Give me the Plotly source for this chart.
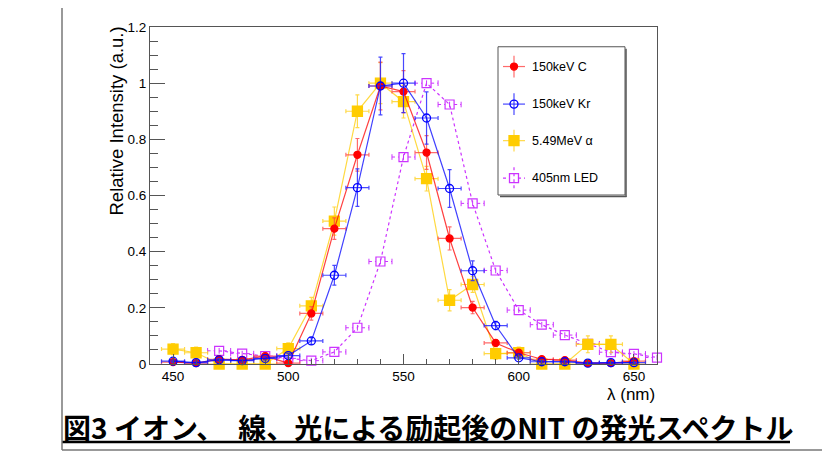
import plotly.graph_objects as go

# ---------------- data ----------------
wavelength = [450, 460, 470, 480, 490, 500, 510, 520, 530, 540, 550,
              560, 570, 580, 590, 600, 610, 620, 630, 640, 650]
c_intensity = [0.007, 0.003, 0.017, 0.015, 0.028, 0.003, 0.18, 0.482, 0.745, 0.99, 0.97,
               0.753, 0.447, 0.201, 0.075, 0.04, 0.017, 0.014, 0.003, 0.003, 0.01]
c_error = [0.008, 0.008, 0.01, 0.01, 0.012, 0.01, 0.024, 0.038, 0.058, 0.085, 0.075,
           0.06, 0.041, 0.022, 0.012, 0.008, 0.006, 0.006, 0.005, 0.005, 0.006]
kr_intensity = [0.01, 0.005, 0.015, 0.012, 0.02, 0.03, 0.082, 0.316, 0.628, 0.99, 1.0,
                0.876, 0.625, 0.332, 0.137, 0.022, 0.008, 0.008, 0.003, 0.005, 0.005]
kr_error = [0.005, 0.005, 0.005, 0.005, 0.006, 0.008, 0.012, 0.035, 0.067, 0.103, 0.105,
            0.093, 0.067, 0.035, 0.015, 0.005, 0.004, 0.004, 0.003, 0.003, 0.003]
alpha_intensity = [0.053, 0.04, 0.0, 0.0, 0.0, 0.055, 0.207, 0.509, 0.90, 1.0, 0.934,
                   0.66, 0.227, 0.283, 0.037, 0.04, 0.0, 0.0, 0.07, 0.07, 0.0]
alpha_error = [0.02, 0.02, 0.0, 0.0, 0.0, 0.02, 0.03, 0.05, 0.058, 0.073, 0.058,
               0.044, 0.038, 0.028, 0.02, 0.02, 0.0, 0.0, 0.03, 0.03, 0.0]
led_wavelength = [470, 480, 490, 500, 510, 520, 530, 540, 550, 560,
                  570, 580, 590, 600, 610, 620, 630, 640, 650, 660]
led_intensity = [0.047, 0.037, 0.028, 0.02, 0.012, 0.043, 0.129, 0.365, 0.737, 1.0,
                 0.924, 0.572, 0.333, 0.192, 0.14, 0.103, 0.072, 0.042, 0.036, 0.023]
led_error = [0.01] * 20
wl_error = 5

series_names = ["150keV C", "150keV Kr", "5.49MeV α", "405nm LED"]
x_tick_vals = [450, 500, 550, 600, 650]
y_tick_vals = [0, 0.2, 0.4, 0.6, 0.8, 1.0, 1.2]
y_tick_text = ["0", "0.2", "0.4", "0.6", "0.8", "1", "1.2"]
x_title = "λ (nm)"
y_title = "Relative Intensity (a.u.)"
caption = "図3 イオン、　線、光による励起後のNIT の発光スペクトル"

# ---------------- layout geometry (page pixels; body has an 8px margin) ----------------
W, H = 830, 460
OFF = 8
L, R, T, B = 150, 657, 23, 364   # frame in page pixels
FONT = "Liberation Sans, Arial, Helvetica, sans-serif"
LED_GAP = 2  # nm gap left around the open square for the dotted x-error bars


def px(x):
    return (x - L) / (R - L)


def py(y):
    return (B - y) / (B - T)


styles = [
    dict(line="rgba(255,0,0,0.75)", err="rgba(255,70,70,0.8)", mcolor="#ff0000",
         symbol="circle", size=7, dash="solid"),
    dict(line="rgba(0,0,255,0.75)", err="rgba(40,40,255,0.85)", mcolor="#0000ff",
         symbol="circle-open", size=8, dash="solid"),
    dict(line="rgba(255,204,0,0.75)", err="rgba(255,210,40,0.85)", mcolor="#ffcc00",
         symbol="square", size=10, dash="solid"),
    dict(line="#cc33ff", err="#cc33ff", mcolor="#cc33ff",
         symbol="square-open", size=9, dash="dot"),
]

fig = go.Figure()

datasets = [
    (wavelength, c_intensity, c_error),
    (wavelength, kr_intensity, kr_error),
    (wavelength, alpha_intensity, alpha_error),
]
draw_order = [2, 0, 1]

# LED first (behind), with dotted horizontal error bars that stop at the marker
s = styles[3]
hx, hy = [], []
for xv, yv in zip(led_wavelength, led_intensity):
    hx += [xv - wl_error, xv - LED_GAP, None, xv + LED_GAP, xv + wl_error, None]
    hy += [yv, yv, None, yv, yv, None]
fig.add_trace(go.Scatter(x=hx, y=hy, mode="lines", line=dict(color=s["err"], width=1, dash="dot"),
                         hoverinfo="skip", showlegend=False, cliponaxis=False))
capx, capy = [], []
for xv, yv in zip(led_wavelength, led_intensity):
    capx += [xv - wl_error, xv + wl_error]
    capy += [yv, yv]
fig.add_trace(go.Scatter(x=capx, y=capy, mode="markers",
                         marker=dict(symbol="line-ns", size=4, line=dict(color=s["err"], width=1)),
                         hoverinfo="skip", showlegend=False, cliponaxis=False))
fig.add_trace(go.Scatter(
    x=led_wavelength, y=led_intensity, mode="lines+markers", name=series_names[3],
    line=dict(color=s["line"], width=1.2, dash="dot"),
    marker=dict(symbol=s["symbol"], size=s["size"], color=s["mcolor"], line=dict(color=s["mcolor"], width=1.2)),
    error_y=dict(type="data", array=led_error, color=s["err"], thickness=1, width=0),
    showlegend=False, cliponaxis=False))

for i in draw_order:
    xs, ys, es = datasets[i]
    s = styles[i]
    fig.add_trace(go.Scatter(
        x=xs, y=ys, mode="lines+markers", name=series_names[i],
        line=dict(color=s["line"], width=1.2, dash=s["dash"]),
        marker=dict(symbol=s["symbol"], size=s["size"], color=s["mcolor"],
                    line=dict(color=s["mcolor"], width=1.3)),
        error_x=dict(type="constant", value=wl_error, color=s["err"], thickness=1.2, width=2),
        error_y=dict(type="data", array=es, color=s["err"], thickness=1.2, width=2),
        showlegend=False, cliponaxis=False))

# ---------------- custom ROOT-like legend (pixel overlay axes) ----------------
leg_y = [63, 101, 138, 176]
leg_mx = 514
for i, yy in enumerate(leg_y):
    s = styles[i]
    if i == 3:
        lx = [leg_mx - 11, leg_mx - 4, None, leg_mx + 4, leg_mx + 11, None, leg_mx, leg_mx]
        ly = [yy, yy, None, yy, yy, None, yy - 11, yy + 11]
        dash = "dot"
    else:
        lx = [leg_mx - 11, leg_mx + 11, None, leg_mx, leg_mx]
        ly = [yy, yy, None, yy - 11, yy + 11]
        dash = "solid"
    fig.add_trace(go.Scatter(x=lx, y=ly, mode="lines", line=dict(color=s["err"], width=1.2, dash=dash),
                             xaxis="x2", yaxis="y2", hoverinfo="skip", showlegend=False,
                             cliponaxis=False))
    fig.add_trace(go.Scatter(x=[leg_mx], y=[yy], mode="markers",
                             marker=dict(symbol=s["symbol"], size=s["size"], color=s["mcolor"],
                                         line=dict(color=s["mcolor"], width=1.3)),
                             xaxis="x2", yaxis="y2", hoverinfo="skip", showlegend=False,
                             cliponaxis=False))

annotations = []
for i, yy in enumerate(leg_y):
    annotations.append(dict(x=px(530), y=py(yy), xref="paper", yref="paper", text=series_names[i],
                            showarrow=False, xanchor="left", yanchor="middle",
                            font=dict(family=FONT, size=12.5, color="black")))

annotations.append(dict(x=px(657), y=py(395), xref="paper", yref="paper", text=x_title,
                        showarrow=False, xanchor="right", yanchor="middle",
                        font=dict(family=FONT, size=17, color="black")))
annotations.append(dict(x=px(117), y=py(21), xref="paper", yref="paper", text=y_title,
                        showarrow=False, xanchor="center", yanchor="top", textangle=-90,
                        font=dict(family=FONT, size=18.5, color="black")))
annotations.append(dict(x=px(61), y=py(428), xref="paper", yref="paper",
                        text="<b>" + caption + "</b>",
                        showarrow=False, xanchor="left", yanchor="middle",
                        font=dict(family="Noto Sans CJK JP", size=28, color="black")))

shapes = [
    # legend box with shadow
    dict(type="rect", xref="paper", yref="paper", x0=px(498), x1=px(625), y0=py(43), y1=py(193),
         line=dict(color="#555555", width=1), layer="above"),
    dict(type="line", xref="paper", yref="paper", x0=px(626), x1=px(626), y0=py(45), y1=py(195),
         line=dict(color="#555555", width=1.5), layer="above"),
    dict(type="line", xref="paper", yref="paper", x0=px(500), x1=px(626.5), y0=py(194.5), y1=py(194.5),
         line=dict(color="#555555", width=1.5), layer="above"),
    # caption underline
    dict(type="line", xref="paper", yref="paper", x0=px(62), x1=px(790), y0=py(443), y1=py(443),
         line=dict(color="black", width=2.5), layer="above"),
    # document frame lines
    dict(type="line", xref="paper", yref="paper", x0=px(62), x1=px(62), y0=py(0), y1=py(451),
         line=dict(color="#777777", width=1.5), layer="above"),
    dict(type="line", xref="paper", yref="paper", x0=px(62), x1=px(838), y0=py(451), y1=py(451),
         line=dict(color="#777777", width=1.5), layer="above"),
]

axis_common = dict(showline=True, mirror=True, linecolor="#555555", linewidth=1.2,
                   showgrid=False, zeroline=False, ticks="inside", tickcolor="#555555",
                   tickfont=dict(family=FONT, size=13.5, color="black"))

fig.update_layout(
    width=W, height=H,
    margin=dict(l=L - OFF, r=W - (R - OFF), t=T - OFF, b=H - (B - OFF), pad=0),
    paper_bgcolor="white", plot_bgcolor="white",
    xaxis=dict(range=[440, 660], tickvals=x_tick_vals, ticklen=10, tickwidth=1,
               minor=dict(dtick=10, tick0=440, ticklen=5, ticks="inside", tickcolor="#555555", tickwidth=1),
               **axis_common),
    yaxis=dict(range=[0, 1.2], tickvals=y_tick_vals, ticktext=y_tick_text,
               ticklen=15, tickwidth=1,
               minor=dict(dtick=0.05, tick0=0, ticklen=7.5, ticks="inside", tickcolor="#555555", tickwidth=1),
               **axis_common),
    xaxis2=dict(domain=[0, 1], range=[L, R], visible=False, overlaying="x", anchor="y2", fixedrange=True),
    yaxis2=dict(domain=[0, 1], range=[B, T], visible=False, overlaying="y", anchor="x2", fixedrange=True),
    annotations=annotations,
    shapes=shapes,
    showlegend=False,
)

fig.write_html("out.html")
